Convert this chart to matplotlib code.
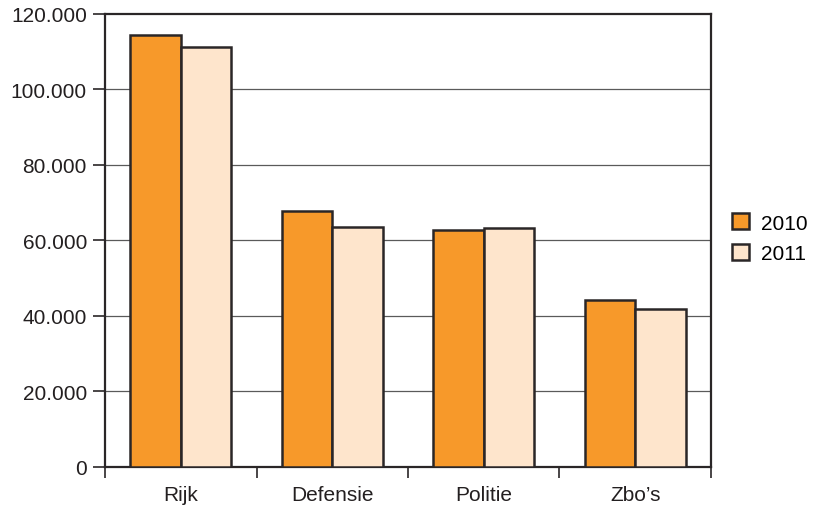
import matplotlib
matplotlib.use("Agg")
import matplotlib.pyplot as plt
import numpy as np
from matplotlib.patches import Patch

categories = ["Rijk", "Defensie", "Politie", "Zbo\u2019s"]
years = ["2010", "2011"]
values_2010 = [114400, 67800, 62800, 44300]
values_2011 = [111200, 63500, 63200, 41900]
y_ticks = [0, 20000, 40000, 60000, 80000, 100000, 120000]
y_labels = ["0", "20.000", "40.000", "60.000", "80.000", "100.000", "120.000"]

orange = "#F7992A"
light = "#FEE5CC"
edge = "#2A2627"

plt.rcParams['font.family'] = ['Liberation Sans', 'DejaVu Sans']

fig = plt.figure(figsize=(8.21, 5.06), dpi=100)
ax = fig.add_axes([0.1279, 0.0751, 0.7381, 0.8953])

x = np.arange(len(categories))
w = 1 / 3
ax.bar(x - w / 2, values_2010, width=w, color=orange, edgecolor=edge,
       linewidth=1.8, zorder=3, label=years[0])
ax.bar(x + w / 2, values_2011, width=w, color=light, edgecolor=edge,
       linewidth=1.8, zorder=3, label=years[1])

ax.set_xlim(-0.5, len(categories) - 0.5)
ax.set_ylim(0, 120000)

# y axis: ticks pointing out, grey gridlines between
ax.set_yticks(y_ticks)
ax.set_yticklabels(y_labels, fontsize=15, color="#231F20")
for t in y_ticks[1:-1]:
    ax.axhline(t, color="#5a5a5a", linewidth=0.9, zorder=1)

# x axis: ticks at category boundaries, labels in the middle
ax.set_xticks(np.arange(len(categories) + 1) - 0.5)
ax.set_xticklabels([])
ax.set_xticks(x, minor=True)
ax.set_xticklabels(categories, minor=True, fontsize=15, color="#231F20")
ax.tick_params(axis="x", which="minor", length=0, pad=13)
ax.tick_params(axis="x", which="major", length=8, width=1.2, color=edge)
ax.tick_params(axis="y", length=9, width=1.2, color=edge, pad=4)

for s in ax.spines.values():
    s.set_linewidth(1.6)
    s.set_color(edge)

handles = [Patch(facecolor=orange, edgecolor=edge, linewidth=1.8),
           Patch(facecolor=light, edgecolor=edge, linewidth=1.8)]
fig.legend(handles, years, loc="center left", bbox_to_anchor=(0.869, 0.527),
           frameon=False, fontsize=15, handlelength=0.8, handleheight=0.8,
           handletextpad=0.6, labelspacing=0.55)

fig.savefig("out.png", dpi=100)
